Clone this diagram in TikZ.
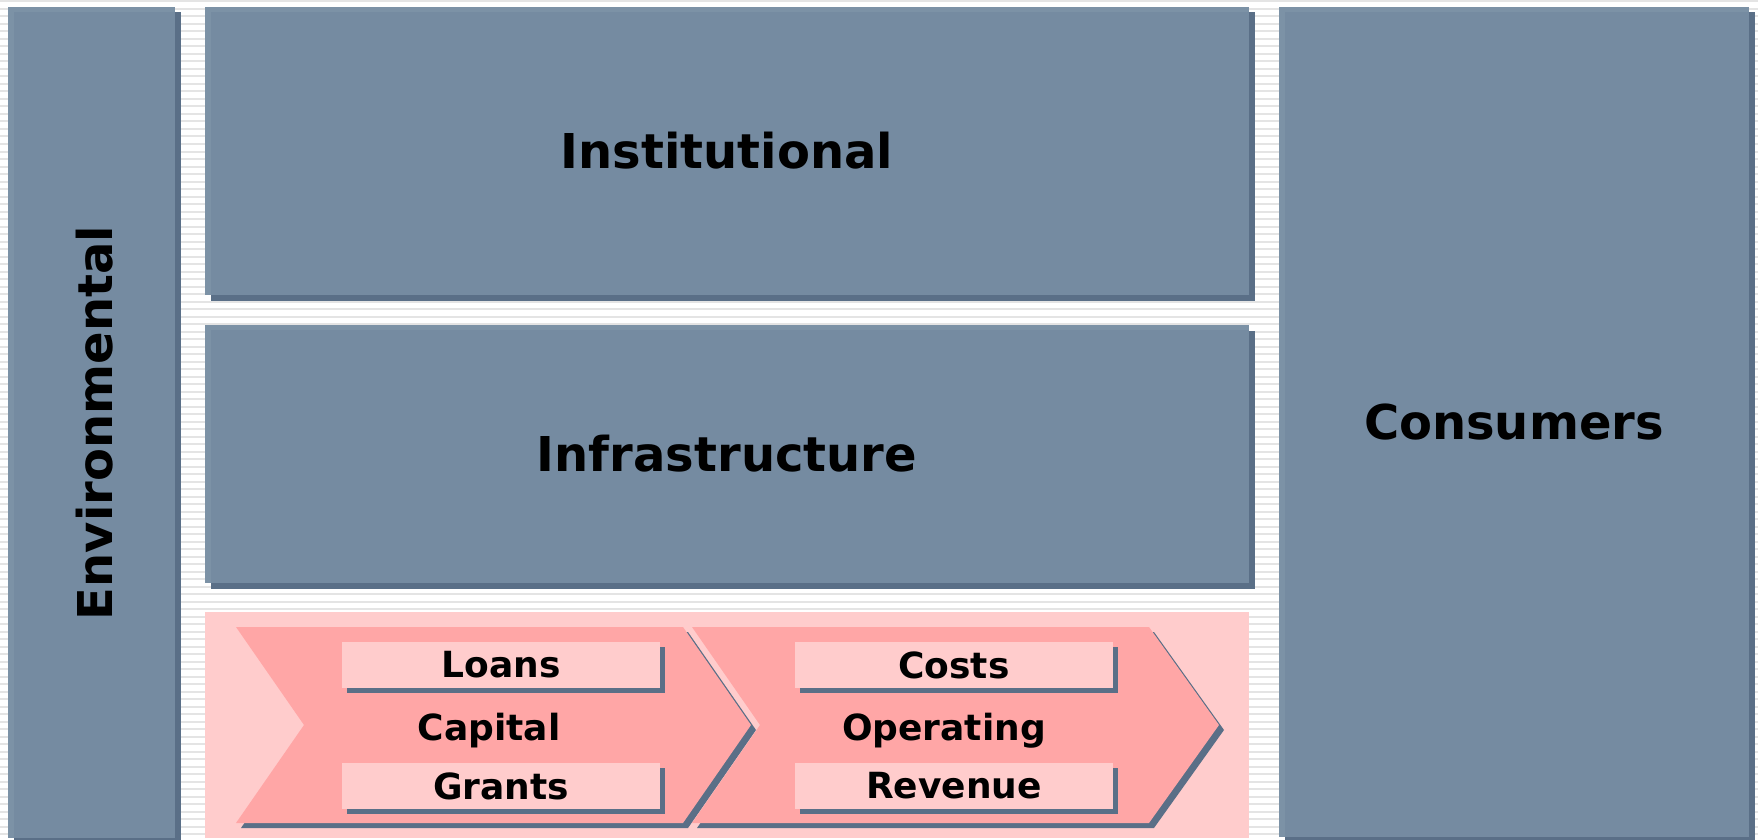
\documentclass[tikz,border=0pt]{standalone}
\usepackage{fontspec}
\setmainfont{DejaVu Sans}
\usetikzlibrary{shadows}
\definecolor{boxc}{HTML}{758BA1}
\definecolor{boxlite}{HTML}{7C92A6}
\definecolor{shd}{HTML}{5A6F87}
\definecolor{pinkbg}{HTML}{FFCCCC}
\definecolor{chev}{HTML}{FFA6A6}
\definecolor{stripec}{HTML}{E4E4E4}
\begin{document}
\begin{tikzpicture}[x=1pt,y=-1pt,
  bigshadow/.style={drop shadow={shadow xshift=5.5pt,shadow yshift=-5.5pt,opacity=1,fill=shd}},
  smallshadow/.style={drop shadow={shadow xshift=5pt,shadow yshift=-5pt,opacity=1,fill=shd}},
  bigbox/.style={fill=boxc, draw=none, inner sep=0pt, bigshadow,
    font=\fontsize{48}{58}\selectfont\bfseries,
    path picture={
      \fill[boxlite] (path picture bounding box.north west) rectangle ([yshift=-5pt]path picture bounding box.north east);
      \fill[boxlite] (path picture bounding box.north west) rectangle ([xshift=6pt]path picture bounding box.south west);}},
  bigtext/.style={font=\fontsize{48}{58}\selectfont\bfseries, inner sep=0pt},
  labbox/.style={fill=pinkbg, draw=none, inner sep=0pt, smallshadow,
    minimum width=318pt, minimum height=46pt,
    font=\fontsize{36}{43}\selectfont\bfseries},
  chevtext/.style={font=\fontsize{36}{43}\selectfont\bfseries, inner sep=0pt, anchor=base},
  chevron/.style={fill=chev, draw=none, smallshadow}
]
\useasboundingbox (0,0) rectangle (1758,840);
\fill[white] (0,0) rectangle (1758,840);
\foreach \yy in {1.5,9,...,841} {
  \draw[stripec, line width=2pt] (0,\yy) -- (1758,\yy);
}
% big boxes
\node[bigbox, minimum width=167pt, minimum height=831pt] (env) at (91.5,422.5) {};
\node[bigtext, rotate=90] (envtxt) at (95,423) {Environmental};
\node[bigbox, minimum width=1044pt, minimum height=288pt] (inst) at (727,151) {Institutional};
\node[bigbox, minimum width=1044pt, minimum height=258pt] (infra) at (727,454) {Infrastructure};
\node[bigbox, minimum width=470pt, minimum height=830pt] (cons) at (1514,422) {Consumers};
% finance region
\node[fill=pinkbg, draw=none, inner sep=0pt, minimum width=1044pt, minimum height=226pt] (fin) at (727,725) {};
% chevrons
\fill[chevron] (236,627) -- (683,627) -- (751,725) -- (683,823) -- (236,823) -- (304,725) -- cycle;
\fill[chevron] (692,627) -- (1149,627) -- (1219,725) -- (1149,823) -- (692,823) -- (760,725) -- cycle;
% labels
\node[labbox] (loans) at (501,665) {Loans};
\node[labbox] (grants) at (501,786) {Grants};
\node[labbox] (costs) at (954,665) {Costs};
\node[labbox] (revenue) at (954,786) {Revenue};
\node[chevtext] (capital) at (489,740) {Capital};
\node[chevtext] (operating) at (944,740) {Operating};
\end{tikzpicture}
\end{document}
